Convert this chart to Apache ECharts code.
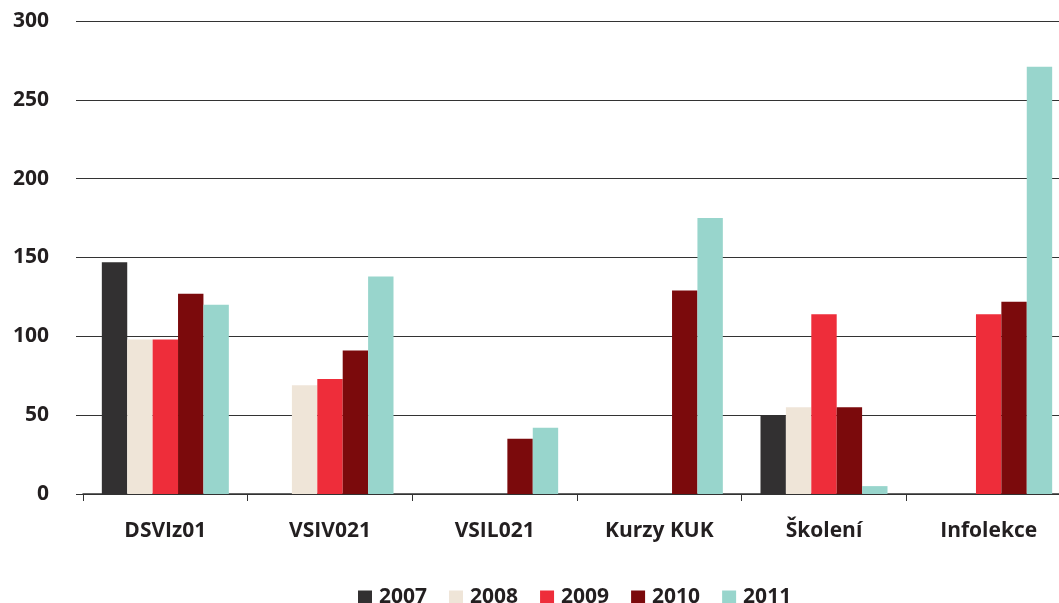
<!DOCTYPE html>
<html>
<head>
<meta charset="utf-8">
<script src="https://cdn.jsdelivr.net/npm/echarts@6/dist/echarts.min.js"></script>
<style>
  html, body { margin: 0; padding: 0; background: #fff; overflow: hidden; }
  /* drawing is a bit wider than the window: the last category is cut off at the right edge */
  #chart { width: 1071px; height: 603px; }
</style>
</head>
<body>
<div id="chart"></div>
<script>
const categories = ['DSVIz01', 'VSIV021', 'VSIL021', 'Kurzy KUK', 'Školení', 'Infolekce']
const years = ['2007', '2008', '2009', '2010', '2011']
// null = no bar in that category
const v2007 = [147, null, null, null, 50, null]
const v2008 = [98, 69, null, null, 55, null]
const v2009 = [98, 73, null, null, 114, 114]
const v2010 = [127, 91, 35, 129, 55, 122]
const v2011 = [120, 138, 42, 175, 5, 271]
const yTicks = [0, 50, 100, 150, 200, 250, 300]

const colors = ['#323031', '#efe5d8', '#ee2d3a', '#7b0a0c', '#98d5cc']
const values = [v2007, v2008, v2009, v2010, v2011]
const fontFam = '"Open Sans", "Noto Sans", sans-serif'

const chart = echarts.init(document.getElementById('chart'))
chart.setOption({
  animation: false,
  grid: { left: 83, right: 0, top: 21, bottom: 109 },
  legend: {
    data: years,
    left: 353,
    top: 582,
    icon: 'rect',
    itemWidth: 14,
    itemHeight: 14,
    itemGap: 22,
    textStyle: { fontFamily: fontFam, fontWeight: 'bold', fontSize: 21, color: '#231f20', width: 48, padding: [0, 0, 0, 2] }
  },
  xAxis: {
    type: 'category',
    data: categories,
    axisLine: { lineStyle: { color: '#333', width: 1.5 } },
    axisTick: { show: true, length: 7, lineStyle: { color: '#333' } },
    axisLabel: { margin: 27, fontFamily: fontFam, fontWeight: 'bold', fontSize: 21, color: '#231f20' }
  },
  yAxis: {
    type: 'value',
    min: yTicks[0],
    max: yTicks[yTicks.length - 1],
    interval: 50,
    axisLine: { show: false },
    axisTick: { show: true, length: 7, lineStyle: { color: '#333' } },
    splitLine: { lineStyle: { color: '#333', width: 1 } },
    axisLabel: { margin: 34, fontFamily: fontFam, fontWeight: 'bold', fontSize: 21, color: '#231f20' }
  },
  series: years.map((y, i) => ({
    name: y,
    type: 'bar',
    data: values[i],
    barWidth: 25.4,
    barGap: '0%',
    itemStyle: { color: colors[i] }
  }))
})
</script>
</body>
</html>
